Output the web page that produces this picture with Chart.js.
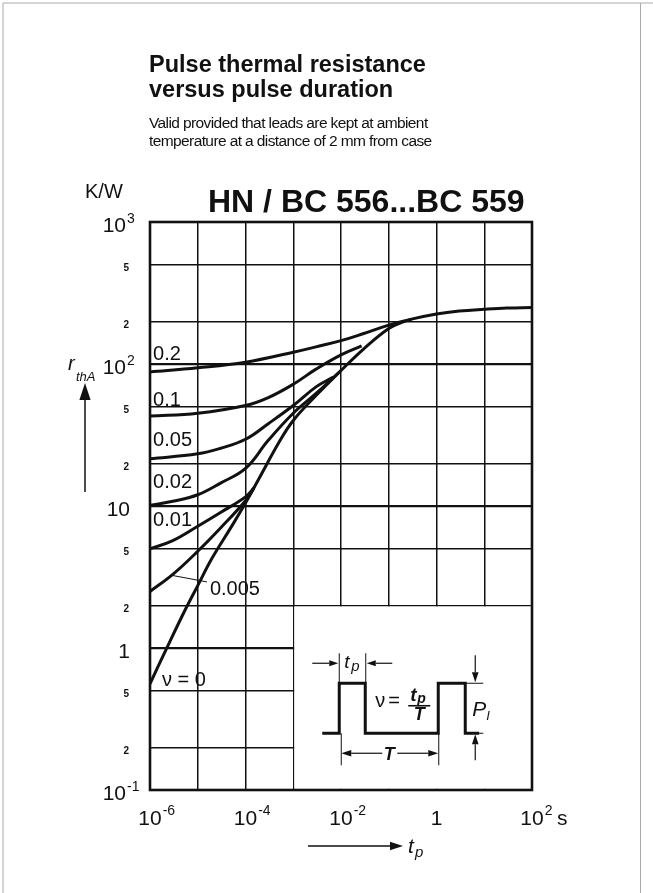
<!DOCTYPE html>
<html>
<head>
<meta charset="utf-8">
<script src="https://cdn.jsdelivr.net/npm/chart.js@4.4.0/dist/chart.umd.min.js"></script>
<style>
  html, body { margin: 0; padding: 0; background: #fff; }
  canvas { display: block; }
</style>
</head>
<body>
<canvas id="chart" width="653" height="893"></canvas>
<script>
// axis ticks (gridlines) and their labels
const X_TICKS = [1e-6, 1e-5, 1e-4, 1e-3, 1e-2, 1e-1, 1, 10, 100];
const Y_TICKS = [0.1, 0.2, 0.5, 1, 2, 5, 10, 20, 50, 100, 200, 500, 1000];
const X_LABELS = [[1e-6, "10", "-6"], [1e-4, "10", "-4"], [1e-2, "10", "-2"], [1, "1", ""], [100, "10", "2"]];
const Y_MAJOR = [[1000, "10", "3"], [100, "10", "2"], [10, "10", ""], [1, "1", ""], [0.1, "10", "-1"]];
const Y_MINOR = [[500, "5"], [200, "2"], [50, "5"], [20, "2"], [5, "5"], [2, "2"], [0.5, "5"], [0.2, "2"]];

// duty cycle curves: pulse duration t_p (s) and r_thA (K/W)
const DUTY = ["0.2", "0.1", "0.05", "0.02", "0.01", "0.005", "ν = 0"];
const T_02 = [1e-6, 1e-5, 1e-4, 1e-3, 3e-3, 1e-2, 3e-2, 0.1, 0.3];
const R_02 = [88, 94, 103, 121, 132, 146, 164, 188, 207];
const T_01 = [1e-6, 1e-5, 1e-4, 3e-4, 1e-3, 3e-3, 1e-2, 2.7e-2];
const R_01 = [43, 45, 51, 58, 72, 92, 116, 134];
const T_005 = [1e-6, 1e-5, 3e-5, 1e-4, 3e-4, 1e-3, 3e-3, 6.9e-3];
const R_005 = [21.5, 23.3, 25.5, 29.5, 38, 51, 69, 81];
const T_002 = [1e-6, 3e-6, 1e-5, 3e-5, 1e-4, 3e-4, 1e-3, 3e-3, 1e-2];
const R_002 = [10.1, 10.8, 12, 14.5, 18.4, 29, 45, 62, 90];
const T_001 = [1e-6, 3e-6, 1e-5, 3e-5, 1e-4, 1.5e-4];
const R_001 = [5.0, 5.7, 7.2, 9.0, 11.6, 13.4];
const T_0005 = [1e-6, 3e-6, 1e-5, 3e-5, 1e-4, 1.5e-4];
const R_0005 = [2.5, 3.3, 4.8, 7.0, 10.9, 13.4];
const T_0 = [1e-6, 2e-6, 5e-6, 1e-5, 2e-5, 5e-5, 1e-4, 2e-4, 5e-4, 1e-3, 3e-3, 1e-2, 3e-2, 0.1, 0.2, 0.3, 1, 3, 10, 30, 100];
const R_0 = [0.56, 0.92, 1.75, 2.75, 4.3, 7.1, 10.5, 16, 28, 40, 60, 90, 128, 178, 198, 207, 225, 236, 243, 248, 250];

// where the curve names sit (left, baseline) in axis units
const DUTY_LABEL_AT = [[1.16e-6, 107], [1.16e-6, 51], [1.16e-6, 26.5], [1.16e-6, 13.4], [1.16e-6, 7.2], [1.8e-5, 2.36], [1.78e-6, 0.54]];

const FONT = '"Liberation Sans", Arial, Helvetica, sans-serif';
const INK = "#111";

const series = [
  [T_02, R_02], [T_01, R_01], [T_005, R_005], [T_002, R_002],
  [T_001, R_001], [T_0005, R_0005], [T_0, R_0]
];

function txt(ctx, s, x, y, font, align) {
  ctx.font = font;
  ctx.textAlign = align || "left";
  ctx.fillText(s, x, y);
}

function arrow(ctx, x1, y1, x2, y2, w, head) {
  const a = Math.atan2(y2 - y1, x2 - x1);
  const hx = x2 - head * Math.cos(a), hy = y2 - head * Math.sin(a);
  const s = head * 0.33;
  ctx.lineWidth = w;
  ctx.beginPath(); ctx.moveTo(x1, y1); ctx.lineTo(hx, hy); ctx.stroke();
  ctx.beginPath();
  ctx.moveTo(x2, y2);
  ctx.lineTo(hx + s * Math.sin(a), hy - s * Math.cos(a));
  ctx.lineTo(hx - s * Math.sin(a), hy + s * Math.cos(a));
  ctx.closePath(); ctx.fill();
}

function seg(ctx, x1, y1, x2, y2, w) {
  ctx.lineWidth = w;
  ctx.beginPath(); ctx.moveTo(x1, y1); ctx.lineTo(x2, y2); ctx.stroke();
}

const paper = {
  id: "paper",
  beforeDraw(chart) {
    const { ctx, width, height } = chart;
    ctx.save();
    ctx.fillStyle = "#fff";
    ctx.fillRect(0, 0, width, height);
    ctx.restore();
  },
  beforeDatasetsDraw(chart) {
    // blank cell for the pulse sketch
    const { ctx, scales: { x, y } } = chart;
    const l = x.getPixelForValue(1e-3), t = y.getPixelForValue(2);
    const r = x.getPixelForValue(100), b = y.getPixelForValue(0.1);
    ctx.save();
    ctx.fillStyle = "#fff";
    ctx.fillRect(l + 1, t + 1.2, r - l - 2, b - t - 2.4);
    ctx.restore();
  },
  afterDraw(chart) {
    const { ctx, chartArea: a, scales: { x, y } } = chart;
    ctx.save();
    ctx.fillStyle = INK;
    ctx.strokeStyle = INK;
    ctx.textBaseline = "alphabetic";

    // page frame
    ctx.strokeStyle = "#aaa";
    seg(ctx, 3, 3, 3, 893, 1);
    seg(ctx, 3, 3, 653, 3, 1);
    seg(ctx, 640.5, 3, 640.5, 893, 1);
    ctx.strokeStyle = INK;

    // plot frame
    ctx.lineWidth = 2.6;
    ctx.strokeRect(a.left, a.top, a.right - a.left, a.bottom - a.top);

    // headings
    txt(ctx, "Pulse thermal resistance", 149, 72, "bold 23.5px " + FONT);
    txt(ctx, "versus pulse duration", 149, 97, "bold 23.5px " + FONT);
    ctx.letterSpacing = "-0.6px";
    txt(ctx, "Valid provided that leads are kept at ambient", 149, 128, "15.5px " + FONT);
    txt(ctx, "temperature at a distance of 2 mm from case", 149, 146, "15.5px " + FONT);
    ctx.letterSpacing = "0px";
    txt(ctx, "HN / BC 556...BC 559", 208, 212, "bold 32px " + FONT);
    txt(ctx, "K/W", 85, 198, "20px " + FONT);

    // y tick labels
    Y_MAJOR.forEach(([v, base, exp]) => {
      const py = y.getPixelForValue(v);
      if (exp) {
        txt(ctx, base, 126, py + 10, "21px " + FONT, "right");
        txt(ctx, exp, 127, py + 1, "14px " + FONT);
      } else {
        txt(ctx, base, 130, py + 10, "21px " + FONT, "right");
      }
    });
    Y_MINOR.forEach(([v, s]) => {
      txt(ctx, s, 129, y.getPixelForValue(v) + 6.5, "bold 10px " + FONT, "right");
    });

    // x tick labels
    X_LABELS.forEach(([v, base, exp]) => {
      const px = x.getPixelForValue(v);
      txt(ctx, base, px, 825, "21px " + FONT, "center");
      if (exp) {
        ctx.font = "21px " + FONT;
        const w = ctx.measureText(base).width;
        txt(ctx, exp, px + w / 2 + 1, 815, "14px " + FONT);
      }
    });
    txt(ctx, "s", 557, 825, "21px " + FONT);

    // axis titles
    txt(ctx, "r", 68, 370, "italic 20px " + FONT);
    txt(ctx, "thA", 76, 381, "italic 13px " + FONT);
    arrow(ctx, 85, 492, 85, 383, 1.5, 17);
    arrow(ctx, 308, 846, 403, 846, 1.5, 13);
    txt(ctx, "t", 408, 853, "italic 21px " + FONT);
    txt(ctx, "p", 415, 857, "italic 15px " + FONT);

    // curve names
    DUTY.forEach((s, i) => {
      const [lx, ly] = DUTY_LABEL_AT[i];
      txt(ctx, s, x.getPixelForValue(lx), y.getPixelForValue(ly), "20px " + FONT);
    });
    seg(ctx, x.getPixelForValue(2.85e-6), y.getPixelForValue(3.25),
      x.getPixelForValue(1.56e-5), y.getPixelForValue(2.92), 1);

    // pulse sketch
    const bx = x.getPixelForValue(1e-3), by = y.getPixelForValue(2);
    ctx.lineWidth = 3;
    ctx.lineJoin = "miter";
    ctx.beginPath();
    ctx.moveTo(bx + 29, by + 128);
    [[46, 128], [46, 78], [72, 78], [72, 128], [145, 128], [145, 78], [172, 78], [172, 128], [186, 128]]
      .forEach(([dx, dy]) => ctx.lineTo(bx + dx, by + dy));
    ctx.stroke();
    seg(ctx, bx + 46, by + 48, bx + 46, by + 78, 1);
    seg(ctx, bx + 72.5, by + 48, bx + 72.5, by + 78, 1);
    arrow(ctx, bx + 19, by + 58, bx + 45, by + 58, 1.2, 9);
    arrow(ctx, bx + 99, by + 58, bx + 73.5, by + 58, 1.2, 9);
    txt(ctx, "t", bx + 51, by + 63, "italic 19px " + FONT);
    txt(ctx, "p", bx + 58, by + 66, "italic 15px " + FONT);

    txt(ctx, "ν", bx + 82, by + 102, "20px " + FONT);
    txt(ctx, "=", bx + 95, by + 102, "20px " + FONT);
    txt(ctx, "t", bx + 117, by + 96, "italic bold 19px " + FONT);
    txt(ctx, "p", bx + 124, by + 98, "italic bold 14px " + FONT);
    seg(ctx, bx + 115, by + 100.5, bx + 137, by + 100.5, 1.6);
    txt(ctx, "T", bx + 126, by + 115, "italic bold 18px " + FONT, "center");

    seg(ctx, bx + 48, by + 128, bx + 48, by + 160, 1);
    seg(ctx, bx + 145.5, by + 128, bx + 145.5, by + 160, 1);
    arrow(ctx, bx + 89, by + 148, bx + 48, by + 148, 1.2, 10);
    arrow(ctx, bx + 104, by + 148, bx + 145, by + 148, 1.2, 10);
    txt(ctx, "T", bx + 96, by + 154.5, "italic bold 18px " + FONT, "center");

    seg(ctx, bx + 172, by + 78, bx + 190, by + 78, 1);
    seg(ctx, bx + 186, by + 128, bx + 190, by + 128, 1);
    arrow(ctx, bx + 182, by + 50, bx + 182, by + 77, 1.2, 10);
    arrow(ctx, bx + 182, by + 155, bx + 182, by + 129, 1.2, 10);
    txt(ctx, "P", bx + 179, by + 111, "italic 21px " + FONT);
    txt(ctx, "I", bx + 193, by + 115, "italic 13px " + FONT);

    ctx.restore();
  }
};

const gridWidth = (c) => (c.tick && [1, 10, 100].includes(c.tick.value)) ? 2.2 : 1.5;

new Chart(document.getElementById("chart"), {
  type: "line",
  data: {
    datasets: series.map(([ts, rs], i) => ({
      label: DUTY[i],
      data: ts.map((t, k) => ({ x: t, y: rs[k] })),
      borderColor: INK,
      borderWidth: 3,
      pointRadius: 0,
      tension: 0.4,
      fill: false
    }))
  },
  options: {
    responsive: false,
    animation: false,
    events: [],
    layout: { padding: { left: 150, top: 222, right: 121, bottom: 103 } },
    plugins: { legend: { display: false }, tooltip: { enabled: false } },
    scales: {
      x: {
        type: "logarithmic",
        min: 1e-6,
        max: 100,
        afterBuildTicks: (s) => { s.ticks = X_TICKS.map((v) => ({ value: v })); },
        afterFit: (s) => { s.height = 0; },
        ticks: { display: false },
        grid: { color: INK, lineWidth: 1.5, drawTicks: false },
        border: { display: false }
      },
      y: {
        type: "logarithmic",
        min: 0.1,
        max: 1000,
        afterBuildTicks: (s) => { s.ticks = Y_TICKS.map((v) => ({ value: v })); },
        afterFit: (s) => { s.width = 0; },
        ticks: { display: false },
        grid: { color: INK, lineWidth: gridWidth, drawTicks: false },
        border: { display: false }
      }
    }
  },
  plugins: [paper]
});
</script>
</body>
</html>
